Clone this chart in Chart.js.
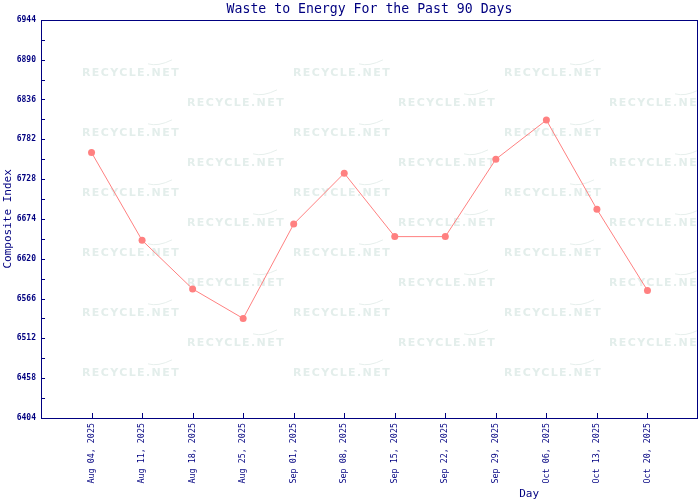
<!doctype html>
<html lang="en">

<head>
    <meta charset="utf-8">
    <title>Waste to Energy</title>
    <script src="https://cdn.jsdelivr.net/npm/chart.js@4.4.0/dist/chart.umd.min.js"></script>
    <style>
        body { margin: 0; background: #fff; overflow: hidden; }
        #wrap { width: 700px; height: 500px; overflow: hidden; }
    </style>
</head>

<body>

    <!-- el lienzo es 2px mas ancho: chart.js deja 4px libres a la derecha -->
    <div id="wrap"><canvas id="chart" width="702" height="500"></canvas></div>

    <script>
        // datos
        var dias = ['Aug 04, 2025', 'Aug 11, 2025', 'Aug 18, 2025', 'Aug 25, 2025', 'Sep 01, 2025', 'Sep 08, 2025',
            'Sep 15, 2025', 'Sep 22, 2025', 'Sep 29, 2025', 'Oct 06, 2025', 'Oct 13, 2025', 'Oct 20, 2025'];
        var indice = [6764, 6645, 6579, 6539, 6667, 6736, 6650, 6650, 6755, 6808, 6687, 6577];
        var yMin = 6404;
        var yMax = 6944;
        var yPaso = 54;

        var azul = '#000080';
        var mono = '"DejaVu Sans Mono", monospace';

        var puntos = indice.map(function (v, i) { return { x: i + 1, y: v }; });

        // marca de agua + marco + ticks hacia adentro
        var adornos = {
            id: 'adornos',
            beforeDatasetsDraw: function (chart) {
                var a = chart.chartArea, ctx = chart.ctx;
                ctx.save();
                ctx.beginPath();
                ctx.rect(a.left, a.top, a.right - a.left, a.bottom - a.top);
                ctx.clip();
                ctx.font = 'bold 11px "DejaVu Sans"';
                ctx.letterSpacing = '1.4px';
                ctx.textBaseline = 'middle';
                ctx.fillStyle = '#e3eeeb';
                ctx.strokeStyle = '#e6efec';
                ctx.lineWidth = 1;
                for (var k = 0; k < 11; k++) {
                    var y = a.top + 53 + k * 30;
                    var x0 = a.left + 41 + (k % 2) * 105;
                    for (var x = x0; x < a.right; x += 211) {
                        ctx.fillText('RECYCLE.NET', x, y);
                        ctx.beginPath();
                        ctx.moveTo(x + 66, y - 9);
                        ctx.quadraticCurveTo(x + 76, y - 6, x + 90, y - 13);
                        ctx.stroke();
                    }
                }
                ctx.restore();
            },
            afterDraw: function (chart) {
                var a = chart.chartArea, ctx = chart.ctx;
                var sx = chart.scales.x, sy = chart.scales.y;
                ctx.save();
                ctx.strokeStyle = azul;
                ctx.lineWidth = 1;
                ctx.strokeRect(Math.round(a.left) + 0.5, Math.round(a.top) + 0.5,
                    Math.round(a.right - a.left) - 1, Math.round(a.bottom - a.top));
                ctx.beginPath();
                sy.ticks.forEach(function (t) {
                    var py = Math.round(sy.getPixelForValue(t.value)) + 0.5;
                    ctx.moveTo(a.left, py);
                    ctx.lineTo(a.left + 4, py);
                });
                sx.ticks.forEach(function (t) {
                    if (t.value < 1 || t.value > dias.length) return;
                    var px = Math.round(sx.getPixelForValue(t.value)) + 0.5;
                    ctx.moveTo(px, a.bottom);
                    ctx.lineTo(px, a.bottom - 5);
                });
                ctx.stroke();
                // titulo eje x
                ctx.fillStyle = azul;
                ctx.font = '11px ' + mono;
                ctx.textAlign = 'center';
                ctx.textBaseline = 'middle';
                ctx.fillText('Day', a.left + (a.right - a.left) * 0.743, 494);
                ctx.restore();
            }
        };

        new Chart(document.getElementById('chart').getContext('2d'), {
            type: 'line',
            data: {
                datasets: [{
                    label: 'Composite Index',
                    data: puntos,
                    borderColor: '#ff8080',
                    backgroundColor: '#ff8080',
                    borderWidth: 1,
                    pointRadius: 3.5,
                    pointBorderWidth: 0,
                    tension: 0
                }]
            },
            options: {
                responsive: false,
                animation: false,
                devicePixelRatio: 1,
                layout: { padding: { right: 0 } },
                plugins: {
                    legend: { display: false },
                    tooltip: { enabled: false },
                    title: {
                        display: true,
                        text: 'Waste to Energy For the Past 90 Days',
                        color: azul,
                        fullSize: false,
                        font: { family: mono, size: 13.2, weight: 'normal' },
                        padding: { top: 2, bottom: 2 }
                    }
                },
                scales: {
                    x: {
                        type: 'linear',
                        min: 0,
                        max: dias.length + 1,
                        grid: { display: false, drawTicks: false },
                        border: { display: false },
                        ticks: {
                            stepSize: 1,
                            autoSkip: false,
                            minRotation: 90,
                            maxRotation: 90,
                            padding: 5,
                            color: azul,
                            font: { family: mono, size: 8.4 },
                            callback: function (v) { return dias[v - 1] || ''; }
                        },
                        afterFit: function (s) {
                            s.height = 82;
                            s.paddingLeft = 0;
                            s.paddingRight = 0;
                        }
                    },
                    y: {
                        min: yMin,
                        max: yMax,
                        grid: { display: false, drawTicks: false },
                        border: { display: false },
                        ticks: {
                            stepSize: yPaso / 2,
                            autoSkip: false,
                            padding: 5,
                            color: azul,
                            font: { family: mono, size: 8, weight: 'bold' },
                            callback: function (v) { return (v - yMin) % yPaso === 0 ? v : ''; }
                        },
                        title: {
                            display: true,
                            text: 'Composite Index',
                            color: azul,
                            font: { family: mono, size: 11 },
                            padding: { top: 2, bottom: 0 }
                        },
                        afterFit: function (s) {
                            s.width = 41;
                            s.paddingTop = 0;
                            s.paddingBottom = 0;
                        }
                    }
                }
            },
            plugins: [adornos]
        });
    </script>

</body>

</html>
